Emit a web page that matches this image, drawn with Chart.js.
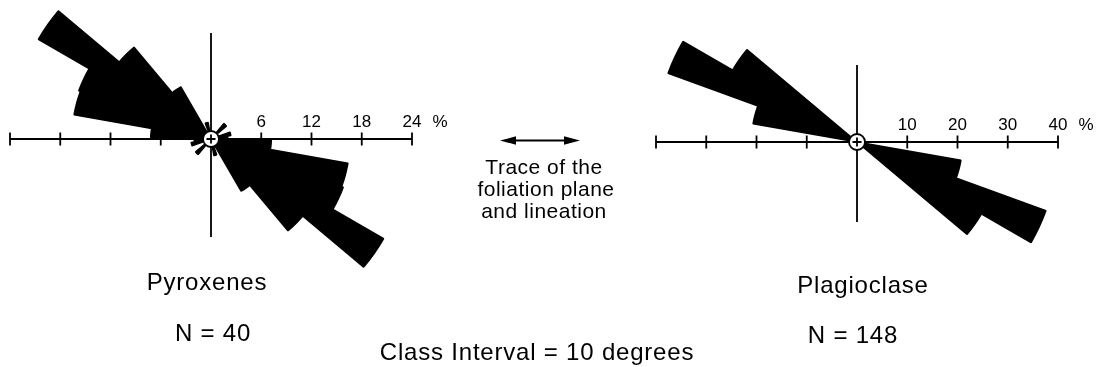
<!DOCTYPE html>
<html>
<head>
<meta charset="utf-8">
<title>Rose diagrams - pyroxenes and plagioclase</title>
<script src="https://cdn.jsdelivr.net/npm/chart.js@4.4.1/dist/chart.umd.min.js"></script>
<style>
  html, body { margin: 0; padding: 0; background: #fff; overflow: hidden; }
  body { width: 1099px; height: 367px; position: relative; }
  canvas { position: absolute; }
  #pyroxeneChart { left: -39px; top: -62px; }
  #plagioclaseChart { left: 607px; top: -59px; }
  svg { position: absolute; left: 0; top: 0; }
  svg text { font-family: "Liberation Sans", Arial, sans-serif; fill: #000; }
  .big { font-size: 24px; letter-spacing: 0.8px; }
  .mid { font-size: 21px; letter-spacing: 0.5px; }
</style>
</head>
<body>
<canvas id="pyroxeneChart" width="500" height="402"></canvas>
<canvas id="plagioclaseChart" width="500" height="402"></canvas>

<svg width="1099" height="367">
  <!-- foliation trace arrow -->
  <line x1="512" y1="140.5" x2="568" y2="140.5" stroke="#000" stroke-width="2"/>
  <polygon points="500,140.5 516,136.3 516,144.7" fill="#000"/>
  <polygon points="580,140.5 564,136.3 564,144.7" fill="#000"/>
  <text class="mid" x="544" y="174" text-anchor="middle">Trace of the</text>
  <text class="mid" x="546" y="196" text-anchor="middle">foliation plane</text>
  <text class="mid" x="544" y="218" text-anchor="middle">and lineation</text>

  <text class="big" x="207" y="290" text-anchor="middle">Pyroxenes</text>
  <text class="big" x="213" y="341" text-anchor="middle">N = 40</text>
  <text class="big" x="863" y="293" text-anchor="middle">Plagioclase</text>
  <text class="big" x="853" y="343" text-anchor="middle">N = 148</text>
  <text class="big" x="537" y="360" text-anchor="middle">Class Interval = 10 degrees</text>
</svg>

<script>
// 10 degree classes, clockwise from north
const binLabels = [
    '0-10', '10-20', '20-30', '30-40', '40-50', '50-60', '60-70', '70-80', '80-90',
    '90-100', '100-110', '110-120', '120-130', '130-140', '140-150', '150-160', '160-170', '170-180',
    '180-190', '190-200', '200-210', '210-220', '220-230', '230-240', '240-250', '250-260', '260-270',
    '270-280', '280-290', '290-300', '300-310', '310-320', '320-330', '330-340', '340-350', '350-360'
];

// percent of grains per class (axial data, so each class repeats 180 degrees on)
const pyroxeneValues = [
    0, 0, 0, 0, 2.4, 0, 0, 2.4, 2.0,
    7.2, 16.6, 16.8, 23.8, 14.3, 7.2, 0, 2.0, 0,
    0, 0, 0, 0, 2.4, 0, 0, 2.4, 2.0,
    7.2, 16.6, 16.8, 23.8, 14.3, 7.2, 0, 2.0, 0
];
const plagioclaseValues = [
    0, 0, 0, 0, 0, 0, 0, 0, 0,
    0, 21.0, 40.0, 28.6, 0, 0, 0, 0, 0,
    0, 0, 0, 0, 0, 0, 0, 0, 0,
    0, 21.0, 40.0, 28.6, 0, 0, 0, 0, 0
];

// scale ticks on the horizontal axis
const pyroxeneTicks = [6, 12, 18, 24];
const pyroxeneTickLabels = ['6', '12', '18', '24'];
const plagioclaseTicks = [10, 20, 30, 40];
const plagioclaseTickLabels = ['10', '20', '30', '40'];

// Cross axes, scale ticks and the centre mark
const roseAxes = {
    id: 'roseAxes',
    afterDatasetsDraw(chart, args, opts) {
        const r = chart.scales.r;
        const ctx = chart.ctx;
        const cx = r.xCenter;
        const cy = r.yCenter;
        const end = r.getDistanceFromCenterForValue(opts.ticks[opts.ticks.length - 1]);

        ctx.save();
        ctx.strokeStyle = '#000';
        ctx.lineWidth = 1.8;
        ctx.beginPath();
        ctx.moveTo(cx - end, cy);
        ctx.lineTo(cx + end, cy);
        ctx.moveTo(cx, cy - opts.up);
        ctx.lineTo(cx, cy + opts.down);
        opts.ticks.forEach(v => {
            const d = r.getDistanceFromCenterForValue(v);
            [cx - d, cx + d].forEach(x => {
                ctx.moveTo(x, cy - 6.5);
                ctx.lineTo(x, cy + 6.5);
            });
        });
        ctx.stroke();

        ctx.fillStyle = '#000';
        ctx.font = '17px "Liberation Sans", Arial, sans-serif';
        ctx.textAlign = 'center';
        ctx.textBaseline = 'alphabetic';
        opts.ticks.forEach((v, i) => {
            ctx.fillText(opts.labels[i], cx + r.getDistanceFromCenterForValue(v), cy - 12);
        });
        ctx.fillText('%', cx + end + 28, cy - 12);

        // centre circle with plus sign
        ctx.beginPath();
        ctx.arc(cx, cy, 8, 0, Math.PI * 2);
        ctx.fillStyle = '#fff';
        ctx.fill();
        ctx.lineWidth = 1.8;
        ctx.stroke();
        ctx.beginPath();
        ctx.moveTo(cx - 4.5, cy);
        ctx.lineTo(cx + 4.5, cy);
        ctx.moveTo(cx, cy - 4.5);
        ctx.lineTo(cx, cy + 4.5);
        ctx.stroke();
        ctx.restore();
    }
};

function createRose(canvasId, values, ticks, tickLabels, up, down) {
    return new Chart(document.getElementById(canvasId), {
        type: 'polarArea',
        data: {
            labels: binLabels,
            datasets: [{
                data: values,
                backgroundColor: '#000',
                borderColor: '#000',
                borderWidth: 1.5,
                clip: false
            }]
        },
        options: {
            responsive: false,
            animation: false,
            layout: { padding: { left: 49, right: 49, top: 0, bottom: 0 } },
            plugins: {
                legend: { display: false },
                tooltip: { enabled: false },
                roseAxes: { ticks: ticks, labels: tickLabels, up: up, down: down }
            },
            scales: {
                r: {
                    min: 0,
                    max: ticks[ticks.length - 1],
                    ticks: { display: false },
                    grid: { display: false },
                    angleLines: { display: false },
                    pointLabels: { display: false }
                }
            }
        },
        plugins: [roseAxes]
    });
}

createRose('pyroxeneChart', pyroxeneValues, pyroxeneTicks, pyroxeneTickLabels, 106, 98);
createRose('plagioclaseChart', plagioclaseValues, plagioclaseTicks, plagioclaseTickLabels, 77, 80);
</script>
</body>
</html>
